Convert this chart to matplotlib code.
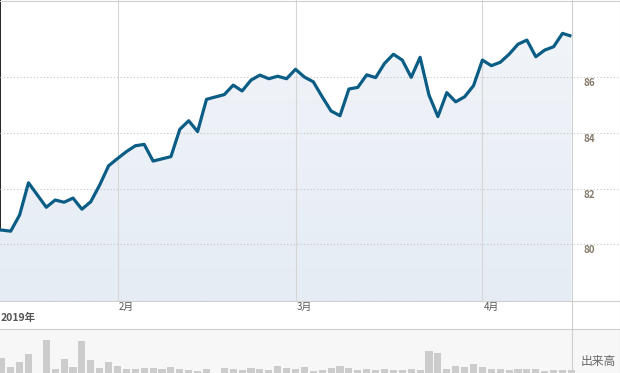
import numpy as np
import matplotlib
matplotlib.use('Agg')
import matplotlib.pyplot as plt
from matplotlib.colors import LinearSegmentedColormap
from matplotlib.lines import Line2D
from matplotlib import transforms

plt.rcParams['font.family'] = ['Noto Sans CJK JP', 'DejaVu Sans']

# 取引日（営業日ベースで横軸に並べる）
dates = [
    '2019-01-14', '2019-01-15', '2019-01-16', '2019-01-17', '2019-01-18',
    '2019-01-22', '2019-01-23', '2019-01-24', '2019-01-25', '2019-01-28',
    '2019-01-29', '2019-01-30', '2019-01-31',
    '2019-02-01', '2019-02-04', '2019-02-05', '2019-02-06', '2019-02-07',
    '2019-02-08', '2019-02-11', '2019-02-12', '2019-02-13', '2019-02-14',
    '2019-02-15', '2019-02-19', '2019-02-20', '2019-02-21', '2019-02-22',
    '2019-02-25', '2019-02-26', '2019-02-27', '2019-02-28',
    '2019-03-01', '2019-03-04', '2019-03-05', '2019-03-06', '2019-03-07',
    '2019-03-08', '2019-03-11', '2019-03-12', '2019-03-13', '2019-03-14',
    '2019-03-15', '2019-03-18', '2019-03-19', '2019-03-20', '2019-03-21',
    '2019-03-22', '2019-03-25', '2019-03-26', '2019-03-27', '2019-03-28',
    '2019-03-29',
    '2019-04-01', '2019-04-02', '2019-04-03', '2019-04-04', '2019-04-05',
    '2019-04-08', '2019-04-09', '2019-04-10', '2019-04-11', '2019-04-12',
    '2019-04-15',
]

# 終値
close = [
    80.52, 80.51, 80.47, 81.05, 82.21,
    81.33, 81.59, 81.51, 81.66, 81.26,
    81.53, 82.13, 82.82,
    83.08, 83.33, 83.54, 83.59, 82.99,
    83.07, 83.15, 84.13, 84.44, 84.05,
    85.21, 85.38, 85.72, 85.51, 85.90,
    86.08, 85.95, 86.04, 85.95,
    86.29, 86.01, 85.84, 85.30, 84.79,
    84.62, 85.58, 85.64, 86.09, 85.99,
    86.50, 86.83, 86.62, 86.00, 86.72,
    85.36, 84.59, 85.45, 85.12, 85.30,
    85.70,
    86.62, 86.42, 86.54, 86.83, 87.19,
    87.34, 86.74, 86.98, 87.10, 87.58,
    87.48,
]

# 出来高（百万株）
volume = [
    3.0, 3.8, 1.5, 2.8, 4.8,
    8.3, 1.0, 3.5, 1.5, 8.0,
    3.3, 1.3, 2.8,
    1.8, 1.0, 1.0, 1.3, 1.3,
    1.0, 1.5, 1.0, 0.8, 0.5,
    1.0, 1.3, 1.0, 0.8, 1.3,
    1.0, 0.8, 1.8, 1.3,
    1.0, 1.5, 0.5, 0.8, 1.3,
    1.8, 1.3, 0.8, 1.0, 0.8,
    1.0, 0.8, 0.8, 1.0, 0.8,
    5.5, 5.0, 1.0, 1.8, 1.5,
    2.3,
    1.5, 1.0, 1.0, 0.8, 1.0,
    1.0, 1.0, 0.5, 0.8, 0.8,
    0.8,
]

month_ticks = ['2019-02-01', '2019-03-01', '2019-04-01']
month_labels = ['2月', '3月', '4月']
price_ticks = [80, 82, 84, 86]
year_label = '2019年'
volume_label = '出来高'

W, H = 620, 373
fig = plt.figure(figsize=(W / 100, H / 100), dpi=100, facecolor='white')


def px_axes(x0, y0, x1, y1):
    """ピクセル座標（左上原点）で軸を配置"""
    return fig.add_axes([x0 / W, 1 - y1 / H, (x1 - x0) / W, (y1 - y0) / H])


x = np.busday_count('2019-02-01', dates)
xm = np.busday_count('2019-02-01', month_ticks)
day_px = 8.9
xlim = (-117.5 / day_px, (W - 117.5) / day_px)
ylim = (77.96, 88.78)

# 価格パネル
ax = px_axes(0, 0, W, 301)
ax.set_facecolor('white')
for side in ['top', 'right', 'bottom']:
    ax.spines[side].set_visible(False)
ax.spines['left'].set_color('black')
ax.spines['left'].set_linewidth(1.2)
ax.set_xticks([])
ax.set_yticks([])

poly = ax.fill_between(x, close, ylim[0], facecolor='none', edgecolor='none')
grad = np.linspace(0, 1, 200).reshape(-1, 1)
cmap = LinearSegmentedColormap.from_list('fill', ['#e5ecf4', '#f1f4f9'])
im = ax.imshow(grad, cmap=cmap, origin='lower', aspect='auto',
               extent=[x[0], x[-1], ylim[0], max(close)], zorder=3)
im.set_clip_path(poly.get_paths()[0], ax.transData)

for p in price_ticks:
    ax.axhline(p, color='#c4c4c4', lw=0.8, ls=(0, (1, 2)), zorder=3.5)
for xv in xm:
    ax.axvline(xv, color='#d6d6d6', lw=0.8, zorder=3.5)

ax.plot(x, close, color='#0b5d85', lw=2.3, zorder=5, solid_capstyle='butt')
ax.set_xlim(*xlim)
ax.set_ylim(*ylim)

label_tr = transforms.blended_transform_factory(ax.transAxes, ax.transData) + \
    transforms.ScaledTranslation(0, -6 / 100, fig.dpi_scale_trans)
for p in price_ticks:
    ax.text(584 / W, p, str(p), transform=label_tr, ha='left', va='center',
            fontsize=7, fontweight='bold', color='#85796a', zorder=6)

# 日付の帯
ax_d = px_axes(0, 301, W, 329)
ax_d.set_xlim(*xlim)
ax_d.set_ylim(0, 1)
ax_d.axis('off')
for xv, lab in zip(xm, month_labels):
    ax_d.text(xv + 0.12, 0.97, lab, ha='left', va='top', fontsize=7, color='#555555')
ax_d.text(1 / W, 0.38, year_label, transform=ax_d.transAxes, ha='left', va='center',
          fontsize=7.5, fontweight='bold', color='#555555')

# 出来高パネル
ax_v = px_axes(0, 329, W, H)
ax_v.set_facecolor('#f7f7f7')
ax_v.bar(x, volume, width=0.79, color='#cccccc', zorder=2)
ax_v.set_xlim(*xlim)
ax_v.set_ylim(0, 11)
ax_v.set_xticks([])
ax_v.set_yticks([])
for s in ax_v.spines.values():
    s.set_visible(False)
fig.text(598 / W, 1 - 361 / H, volume_label, ha='center', va='center',
         fontsize=8.5, color='#666666')

# 枠線
border = '#cfcfcf'
for xs, ys in [([0, 1], [1 - 0.5 / H] * 2),
               ([0, 1], [1 - 301 / H] * 2),
               ([0, 1], [1 - 329 / H] * 2),
               ([571.5 / W] * 2, [0, 1]),
               ([619.5 / W] * 2, [0, 1])]:
    fig.add_artist(Line2D(xs, ys, transform=fig.transFigure, color=border, lw=0.8, zorder=10))

fig.savefig('out.png', dpi=100)
